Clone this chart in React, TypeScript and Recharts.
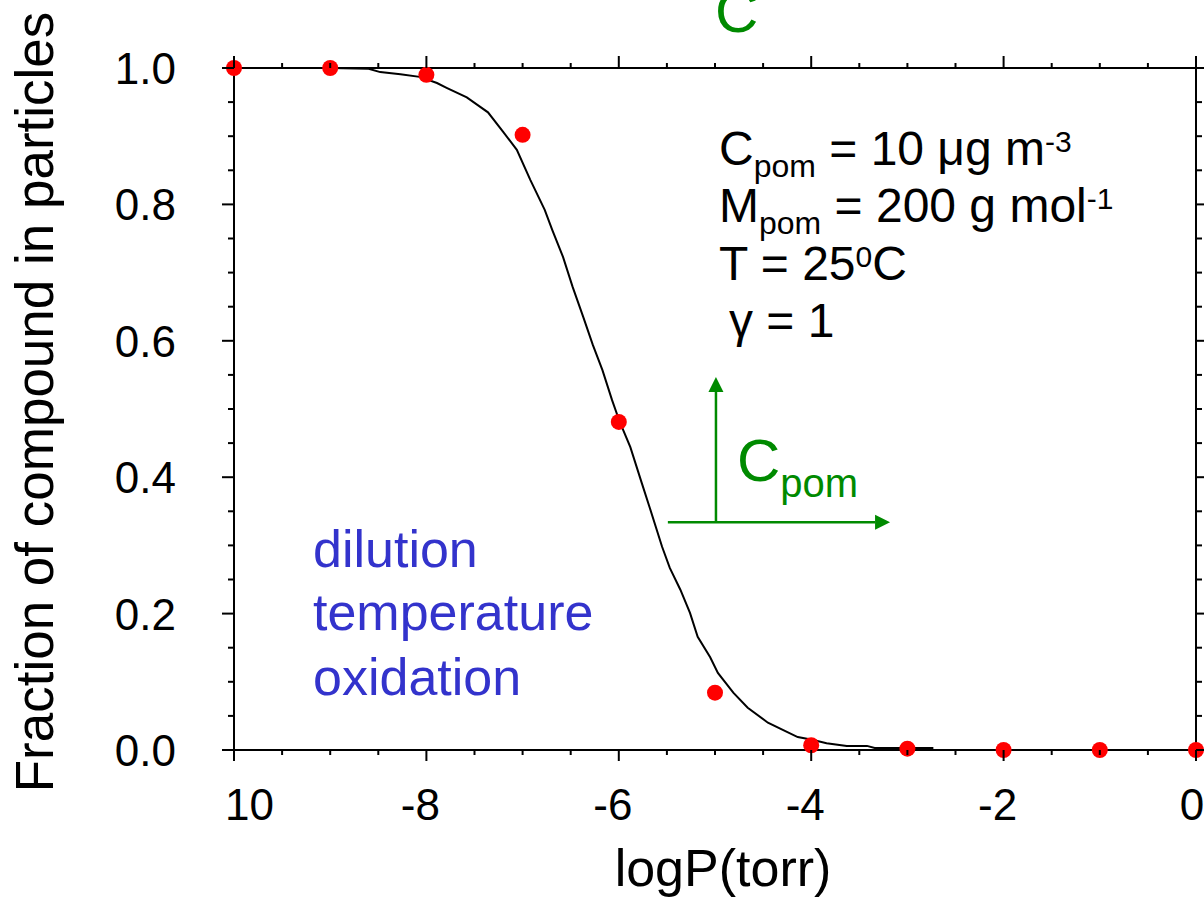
import React from 'react'
import { ComposedChart, Line, Scatter, XAxis, YAxis, ReferenceLine } from 'recharts'

// measured points (red dots)
const POINT_X = [-10, -9, -8, -7, -6, -5, -4, -3, -2, -1, 0]
const POINT_Y = [1.0, 1.0, 0.99, 0.902, 0.481, 0.084, 0.007, 0.002, 0, 0, 0]

// model curve (black line)
const CURVE_X = [
  -9.0, -8.6, -8.48, -8.27, -8.07, -7.89, -7.79, -7.58, -7.47, -7.36, -7.2, -7.06, -6.92, -6.77, -6.69,
  -6.58, -6.48, -6.37, -6.27, -6.17, -6.07, -5.99, -5.88, -5.76, -5.68, -5.55, -5.47, -5.36, -5.26, -5.18,
  -5.05, -4.97, -4.81, -4.66, -4.45, -4.29, -4.14, -3.99, -3.84, -3.63, -3.42, -3.34, -2.73,
]
const CURVE_Y = [
  1.0, 0.999, 0.994, 0.991, 0.987, 0.978, 0.971, 0.957, 0.946, 0.935, 0.906, 0.88, 0.836, 0.792, 0.762,
  0.723, 0.679, 0.635, 0.594, 0.557, 0.513, 0.481, 0.444, 0.391, 0.356, 0.298, 0.267, 0.235, 0.201, 0.166,
  0.136, 0.113, 0.084, 0.062, 0.04, 0.029, 0.019, 0.015, 0.01, 0.006, 0.006, 0.003, 0.003,
]

// axis ticks (every tick, majors get a label)
const X_TICKS = [-10, -9.5, -9, -8.5, -8, -7.5, -7, -6.5, -6, -5.5, -5, -4.5, -4, -3.5, -3, -2.5, -2, -1.5, -1, -0.5, 0]
const X_MAJOR = [-10, -8, -6, -4, -2, 0]
const X_LABELS = ['10', '-8', '-6', '-4', '-2', '0']
const Y_TICKS = [0, 0.05, 0.1, 0.15, 0.2, 0.25, 0.3, 0.35, 0.4, 0.45, 0.5, 0.55, 0.6, 0.65, 0.7, 0.75, 0.8, 0.85, 0.9, 0.95, 1]
const Y_MAJOR = [0, 0.2, 0.4, 0.6, 0.8, 1]
const Y_LABELS = ['0.0', '0.2', '0.4', '0.6', '0.8', '1.0']

// green arrows (C_pom shift), in data units
const ARROW_UP = [{ x: -4.99, y: 0.334 }, { x: -4.99, y: 0.547 }]
const ARROW_RIGHT = [{ x: -5.49, y: 0.334 }, { x: -3.18, y: 0.334 }]

const points = POINT_X.map((x, i) => ({ x, y: POINT_Y[i] }))
const curve = CURVE_X.map((x, i) => ({ x, y: CURVE_Y[i] }))

const FONT = '"Liberation Sans", Arial, Helvetica, sans-serif'
const GREEN = '#008a00'
const BLUE = '#3333cc'

const near = (a: number, b: number) => Math.abs(a - b) < 1e-6
const xMajorIdx = (v: number) => X_MAJOR.findIndex((m) => near(m, v))
const yMajorIdx = (v: number) => Y_MAJOR.findIndex((m) => near(m, v))

function BottomTick(props: any) {
  const { x, y, payload } = props
  const i = xMajorIdx(payload.value)
  const major = i >= 0
  const label = major ? X_LABELS[i] : ''
  const first = near(payload.value, -10)
  const last = near(payload.value, 0)
  return (
    <g>
      <line x1={x} x2={x} y1={y} y2={y + (major ? 11 : 5)} stroke="#000" strokeWidth={2} />
      {major && (
        <text
          x={first ? x - 9 : last ? x - 4 : x - 6}
          y={y + 70}
          textAnchor={first ? 'start' : 'middle'}
          fontSize={44}
          fontFamily={FONT}
          fill="#000"
        >
          {label}
        </text>
      )}
    </g>
  )
}

function TopTick(props: any) {
  const { x, y, payload } = props
  const major = xMajorIdx(payload.value) >= 0
  return <line x1={x} x2={x} y1={y} y2={y - (major ? 12 : 5)} stroke="#000" strokeWidth={2} />
}

function LeftTick(props: any) {
  const { x, y, payload } = props
  const i = yMajorIdx(payload.value)
  const major = i >= 0
  return (
    <g>
      <line x1={x} x2={x - (major ? 12 : 6)} y1={y} y2={y} stroke="#000" strokeWidth={2} />
      {major && (
        <text x={x - 58} y={y + 16} textAnchor="end" fontSize={44} fontFamily={FONT} fill="#000">
          {Y_LABELS[i]}
        </text>
      )}
    </g>
  )
}

function RightTick(props: any) {
  const { x, y, payload } = props
  const major = yMajorIdx(payload.value) >= 0
  return <line x1={x} x2={x + (major ? 12 : 6)} y1={y} y2={y} stroke="#000" strokeWidth={2} />
}

function Arrow(props: any) {
  const { x1, y1, x2, y2 } = props
  const dx = x2 - x1
  const dy = y2 - y1
  const len = Math.sqrt(dx * dx + dy * dy) || 1
  const ux = dx / len
  const uy = dy / len
  const head = 15
  const half = 7.5
  const bx = x2 - ux * head
  const by = y2 - uy * head
  return (
    <g>
      <line x1={x1} y1={y1} x2={bx} y2={by} stroke={GREEN} strokeWidth={2.5} />
      <polygon
        points={`${x2},${y2} ${bx - uy * half},${by + ux * half} ${bx + uy * half},${by - ux * half}`}
        fill={GREEN}
      />
    </g>
  )
}

const Dot = (props: any) => <circle cx={props.cx} cy={props.cy} r={8} fill="#ff0000" />

const axisLine = { stroke: '#000', strokeWidth: 2 }

export default function App() {
  return (
    <div style={{ position: 'relative', width: 1204, height: 907, overflow: 'hidden', background: '#fff' }}>
      <style>{'body{margin:0}'}</style>
      <ComposedChart width={1204} height={907} margin={{ top: 0, right: 0, bottom: 0, left: 0 }}>
        <XAxis
          xAxisId="b"
          type="number"
          dataKey="x"
          orientation="bottom"
          domain={[-10, 0]}
          ticks={X_TICKS}
          interval={0}
          height={157}
          tickSize={0}
          tickMargin={0}
          tickLine={false}
          axisLine={axisLine}
          tick={<BottomTick />}
        />
        <XAxis
          xAxisId="t"
          type="number"
          dataKey="x"
          orientation="top"
          domain={[-10, 0]}
          ticks={X_TICKS}
          interval={0}
          height={68}
          tickSize={0}
          tickMargin={0}
          tickLine={false}
          axisLine={axisLine}
          tick={<TopTick />}
          allowDataOverflow
        />
        <YAxis
          yAxisId="l"
          type="number"
          dataKey="y"
          orientation="left"
          domain={[0, 1]}
          ticks={Y_TICKS}
          interval={0}
          width={234}
          tickSize={0}
          tickMargin={0}
          tickLine={false}
          axisLine={axisLine}
          tick={<LeftTick />}
        />
        <YAxis
          yAxisId="r"
          type="number"
          dataKey="y"
          orientation="right"
          domain={[0, 1]}
          ticks={Y_TICKS}
          interval={0}
          width={8}
          tickSize={0}
          tickMargin={0}
          tickLine={false}
          axisLine={axisLine}
          tick={<RightTick />}
          allowDataOverflow
        />
        <ReferenceLine xAxisId="b" yAxisId="l" segment={ARROW_UP} ifOverflow="visible" shape={(p: any) => <Arrow {...p} />} />
        <ReferenceLine xAxisId="b" yAxisId="l" segment={ARROW_RIGHT} ifOverflow="visible" shape={(p: any) => <Arrow {...p} />} />
        <Line
          xAxisId="b"
          yAxisId="l"
          data={curve}
          dataKey="y"
          type="linear"
          stroke="#000"
          strokeWidth={2}
          dot={false}
          activeDot={false}
          isAnimationActive={false}
        />
        <Scatter xAxisId="b" yAxisId="l" data={points} dataKey="y" shape={<Dot />} isAnimationActive={false} />
      </ComposedChart>

      <svg
        width={1204}
        height={907}
        style={{ position: 'absolute', left: 0, top: 0, pointerEvents: 'none' }}
        fontFamily={FONT}
      >
        <text x={715} y={32} fontSize={60} fill={GREEN}>C</text>

        <text x={53} y={402} transform="rotate(-90 53 402)" textAnchor="middle" fontSize={53} fill="#000">
          Fraction of compound in particles
        </text>
        <text x={723} y={886} textAnchor="middle" fontSize={52} fill="#000">logP(torr)</text>

        <g fill="#000" fontSize={48}>
          <text x={719} y={165}>
            C<tspan fontSize={32} dy={12}>pom</tspan>
            <tspan dy={-12}> = 10 μg m</tspan>
            <tspan fontSize={30} dy={-13}>-3</tspan>
          </text>
          <text x={719} y={222}>
            M<tspan fontSize={32} dy={12}>pom</tspan>
            <tspan dy={-12}> = 200 g mol</tspan>
            <tspan fontSize={30} dy={-13}>-1</tspan>
          </text>
          <text x={719} y={280}>
            T = 25<tspan fontSize={30} dy={-13}>0</tspan>
            <tspan dy={13}>C</tspan>
          </text>
          <text x={729} y={337}>γ = 1</text>
        </g>

        <g fill={BLUE} fontSize={52}>
          <text x={313} y={567}>dilution</text>
          <text x={313} y={630}>temperature</text>
          <text x={313} y={695}>oxidation</text>
        </g>

        <text x={737} y={481} fontSize={60} fill={GREEN}>
          C<tspan fontSize={40} dy={16}>pom</tspan>
        </text>
      </svg>
    </div>
  )
}
